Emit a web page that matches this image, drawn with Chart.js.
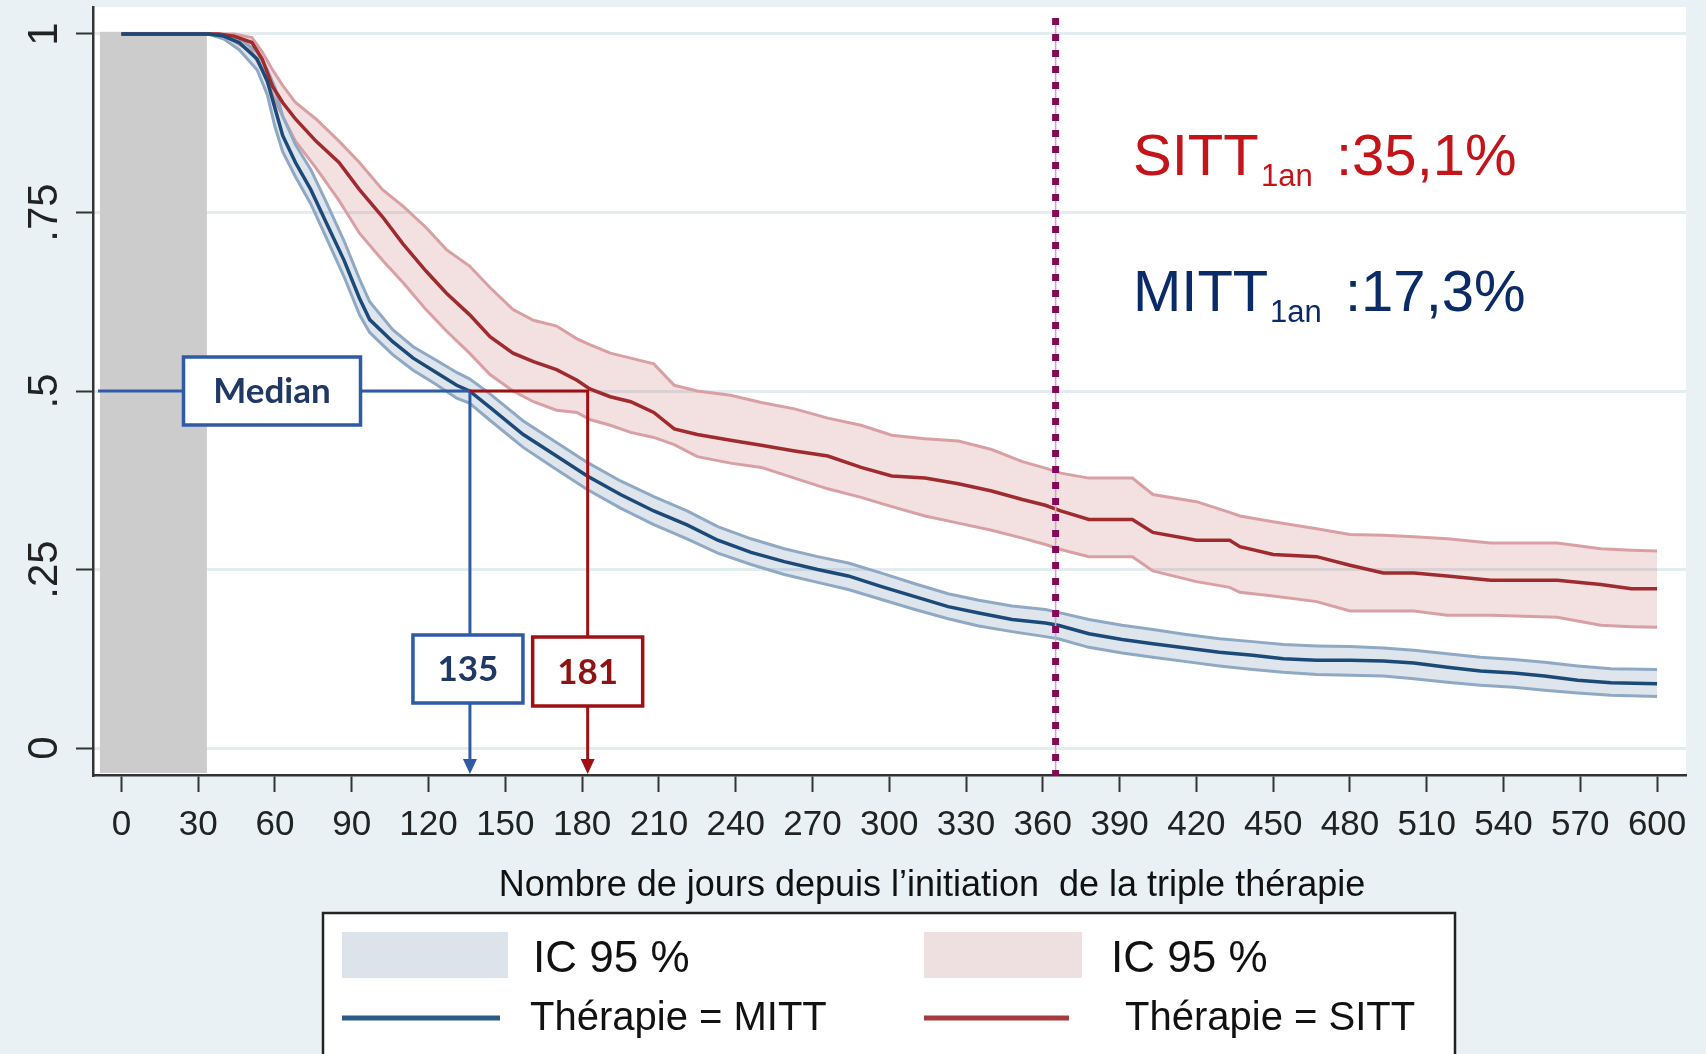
<!DOCTYPE html>
<html>
<head>
<meta charset="utf-8">
<script src="https://cdn.jsdelivr.net/npm/chart.js@4.4.1/dist/chart.umd.min.js"></script>
<style>
  html, body { margin: 0; padding: 0; background: #e9f1f4; }
  #wrap { width: 1706px; height: 1054px; }
</style>
</head>
<body>
<div id="wrap"><canvas id="kmChart" width="1706" height="1054"></canvas></div>
<script>
// Kaplan-Meier MITT (bleu)
const mittDays = [0, 34, 40, 46, 53, 57, 60, 63, 68, 74, 80, 87, 93, 97, 106, 114, 123, 131, 136, 144, 157, 170, 182, 195, 208, 221, 233, 246, 259, 272, 284, 297, 310, 323, 335, 348, 361, 366, 378, 391, 403, 416, 429, 442, 454, 467, 480, 493, 505, 518, 531, 544, 556, 569, 582, 600];
const mittSurv = [1, 1, 0.997, 0.988, 0.965, 0.934, 0.896, 0.858, 0.82, 0.782, 0.736, 0.683, 0.63, 0.60, 0.569, 0.546, 0.526, 0.508, 0.50, 0.477, 0.439, 0.409, 0.381, 0.355, 0.332, 0.3125, 0.291, 0.274, 0.261, 0.25, 0.241, 0.226, 0.212, 0.198, 0.189, 0.18, 0.175, 0.172, 0.16, 0.152, 0.146, 0.14, 0.134, 0.13, 0.125, 0.123, 0.123, 0.122, 0.119, 0.113, 0.108, 0.105, 0.101, 0.095, 0.0915, 0.09];
const mittLow = [1, 1, 0.993, 0.978, 0.95, 0.915, 0.87, 0.835, 0.80, 0.762, 0.715, 0.66, 0.607, 0.582, 0.551, 0.529, 0.509, 0.49, 0.483, 0.459, 0.421, 0.39, 0.362, 0.336, 0.313, 0.293, 0.273, 0.257, 0.243, 0.232, 0.222, 0.208, 0.194, 0.181, 0.171, 0.163, 0.156, 0.153, 0.141, 0.133, 0.127, 0.121, 0.115, 0.11, 0.106, 0.103, 0.102, 0.101, 0.097, 0.092, 0.088, 0.085, 0.081, 0.077, 0.074, 0.072];
const mittHigh = [1, 1, 0.999, 0.994, 0.975, 0.95, 0.925, 0.885, 0.845, 0.81, 0.765, 0.71, 0.657, 0.625, 0.586, 0.562, 0.543, 0.526, 0.517, 0.496, 0.458, 0.428, 0.40, 0.374, 0.352, 0.332, 0.31, 0.293, 0.279, 0.268, 0.259, 0.245, 0.23, 0.216, 0.207, 0.199, 0.194, 0.19, 0.18, 0.172, 0.166, 0.159, 0.153, 0.149, 0.145, 0.143, 0.142, 0.14, 0.137, 0.132, 0.127, 0.124, 0.12, 0.115, 0.111, 0.11];

// Kaplan-Meier SITT (rouge)
const sittDays = [0, 38, 44, 51, 55, 59, 63, 68, 76, 85, 93, 102, 110, 119, 127, 136, 144, 153, 161, 170, 178, 183, 191, 199, 208, 216, 225, 238, 250, 263, 276, 289, 301, 314, 327, 340, 352, 361, 367, 378, 395, 403, 420, 433, 437, 450, 467, 480, 493, 505, 518, 535, 561, 578, 590, 600];
const sittSurv = [1, 1, 0.997, 0.988, 0.965, 0.927, 0.904, 0.881, 0.85, 0.82, 0.782, 0.744, 0.706, 0.668, 0.637, 0.607, 0.576, 0.553, 0.541, 0.53, 0.515, 0.503, 0.492, 0.485, 0.47, 0.447, 0.439, 0.431, 0.424, 0.416, 0.409, 0.393, 0.381, 0.378, 0.37, 0.36, 0.348, 0.34, 0.332, 0.32, 0.32, 0.302, 0.291, 0.291, 0.282, 0.271, 0.268, 0.256, 0.245, 0.245, 0.241, 0.235, 0.235, 0.229, 0.223, 0.223];
const sittLow = [1, 1, 0.99, 0.975, 0.95, 0.915, 0.885, 0.85, 0.8125, 0.767, 0.721, 0.683, 0.652, 0.614, 0.584, 0.553, 0.523, 0.5, 0.485, 0.473, 0.47, 0.46, 0.452, 0.442, 0.435, 0.425, 0.408, 0.399, 0.393, 0.378, 0.363, 0.351, 0.338, 0.325, 0.315, 0.305, 0.294, 0.285, 0.278, 0.268, 0.268, 0.248, 0.233, 0.225, 0.218, 0.213, 0.205, 0.192, 0.192, 0.192, 0.186, 0.186, 0.183, 0.172, 0.17, 0.169];
const sittHigh = [1, 1, 1, 0.995, 0.975, 0.95, 0.928, 0.904, 0.881, 0.85, 0.82, 0.782, 0.759, 0.729, 0.698, 0.675, 0.645, 0.614, 0.599, 0.591, 0.573, 0.565, 0.553, 0.546, 0.538, 0.508, 0.5, 0.494, 0.484, 0.475, 0.462, 0.452, 0.438, 0.433, 0.43, 0.418, 0.401, 0.392, 0.385, 0.378, 0.378, 0.355, 0.345, 0.33, 0.325, 0.317, 0.307, 0.299, 0.298, 0.296, 0.293, 0.287, 0.287, 0.279, 0.277, 0.276];

const xTickValues = [0, 30, 60, 90, 120, 150, 180, 210, 240, 270, 300, 330, 360, 390, 420, 450, 480, 510, 540, 570, 600];
const yTickValues = [0, 0.25, 0.5, 0.75, 1];
const greyWindow = [-8.4, 33.4];
const medianMITT = 135;
const medianSITT = 181;
const oneYear = 365;
const sitt1an = '35,1%';
const mitt1an = '17,3%';
const axisTitle = 'Nombre de jours depuis l’initiation  de la triple thérapie';
const legendLabels = ['IC 95 %', 'IC 95 %', 'Thérapie = MITT', 'Thérapie = SITT'];

const BLUE = '#1c4a78', RED = '#9f2b2e';
const ANN_BLUE = '#2e5aa6', ANN_RED = '#a00f12';
const FONT = "'Liberation Sans', Arial, sans-serif";

function pts(days, vals) {
    return days.map((d, i) => ({ x: d, y: vals[i] }));
}

function yLabel(v) {
    if (v === 0 || v === 1) return String(v);
    return String(v).replace(/^0/, '');
}

function labelBox(ctx, cx, top, w, h, stroke, text, color) {
    ctx.fillStyle = '#fff';
    ctx.fillRect(cx - w / 2, top, w, h);
    ctx.strokeStyle = stroke;
    ctx.lineWidth = 3.5;
    ctx.strokeRect(cx - w / 2, top, w, h);
    ctx.fillStyle = color;
    ctx.font = "bold 35px Lato, 'Open Sans', sans-serif";
    ctx.textAlign = 'center';
    ctx.textBaseline = 'middle';
    ctx.fillText(text, cx, top + h / 2 + 1);
}

function arrowDown(ctx, x, y0, y1, color) {
    ctx.strokeStyle = color;
    ctx.lineWidth = 3;
    ctx.beginPath();
    ctx.moveTo(x, y0);
    ctx.lineTo(x, y1 - 12);
    ctx.stroke();
    ctx.fillStyle = color;
    ctx.beginPath();
    ctx.moveTo(x - 7, y1 - 15);
    ctx.lineTo(x + 7, y1 - 15);
    ctx.lineTo(x, y1);
    ctx.closePath();
    ctx.fill();
}

const backgroundPlugin = {
    id: 'background',
    beforeDraw(chart) {
        const { ctx, chartArea: a } = chart;
        ctx.save();
        ctx.fillStyle = '#e9f1f4';
        ctx.fillRect(0, 0, chart.width, chart.height);
        ctx.fillStyle = '#ffffff';
        ctx.fillRect(a.left, a.top, a.right - a.left, a.bottom - a.top);
        ctx.restore();
    },
    beforeDatasetsDraw(chart) {
        const { ctx, chartArea: a, scales: { x, y } } = chart;
        const x0 = x.getPixelForValue(greyWindow[0]);
        const x1 = x.getPixelForValue(greyWindow[1]);
        const top = y.getPixelForValue(1.003);
        ctx.save();
        ctx.fillStyle = '#cccccc';
        ctx.fillRect(x0, top, x1 - x0, a.bottom - 2 - top);
        ctx.restore();
    }
};

const notesPlugin = {
    id: 'notes',
    afterDatasetsDraw(chart) {
        const { ctx, chartArea: a, scales: { x, y } } = chart;
        ctx.save();

        // ligne pointillée à 1 an
        const xy = x.getPixelForValue(oneYear);
        ctx.strokeStyle = '#b5b5b5';
        ctx.lineWidth = 1.5;
        ctx.beginPath();
        ctx.moveTo(xy, 18);
        ctx.lineTo(xy, a.bottom);
        ctx.stroke();
        ctx.strokeStyle = '#86085a';
        ctx.lineWidth = 7;
        ctx.setLineDash([7, 9]);
        ctx.beginPath();
        ctx.moveTo(xy, 18);
        ctx.lineTo(xy, a.bottom);
        ctx.stroke();
        ctx.setLineDash([]);

        // médianes (trait tracé ~3 px à droite de la valeur, comme l'original)
        const y05 = y.getPixelForValue(0.5);
        const xm = x.getPixelForValue(medianMITT) + 3;
        const xs = x.getPixelForValue(medianSITT) + 3;
        ctx.lineWidth = 3;
        ctx.strokeStyle = ANN_BLUE;
        ctx.beginPath();
        ctx.moveTo(a.left + 5, y05);
        ctx.lineTo(xm, y05);
        ctx.lineTo(xm, 636);
        ctx.stroke();
        ctx.strokeStyle = ANN_RED;
        ctx.beginPath();
        ctx.moveTo(xm, y05);
        ctx.lineTo(xs, y05);
        ctx.lineTo(xs, 638);
        ctx.stroke();

        arrowDown(ctx, xm, 703, a.bottom - 1, ANN_BLUE);
        arrowDown(ctx, xs, 706, a.bottom - 1, ANN_RED);

        labelBox(ctx, 272, y05 - 34, 177, 68, ANN_BLUE, 'Median', '#1f3864');
        labelBox(ctx, xm - 2, 635, 110, 68, ANN_BLUE, String(medianMITT), '#1f3864');
        labelBox(ctx, xs, 637, 110, 69, ANN_RED, String(medianSITT), '#8e1414');

        // survie à 1 an
        const notes = [
            { name: 'SITT', value: sitt1an, color: '#c3141a', base: 175, sub: 1261, colon: 1336 },
            { name: 'MITT', value: mitt1an, color: '#0b2a68', base: 311, sub: 1270, colon: 1345 }
        ];
        ctx.textAlign = 'left';
        ctx.textBaseline = 'alphabetic';
        notes.forEach(n => {
            ctx.fillStyle = n.color;
            ctx.font = '58px ' + FONT;
            ctx.fillText(n.name, 1133, n.base);
            ctx.fillText(':' + n.value, n.colon, n.base);
            ctx.font = '31px ' + FONT;
            ctx.fillText('1an', n.sub, n.base + 11);
        });
        ctx.restore();
    },
    afterDraw(chart) {
        const { ctx, scales: { y } } = chart;
        ctx.save();

        // étiquettes de l'axe Y, tournées
        ctx.fillStyle = '#222';
        ctx.font = '42px ' + FONT;
        ctx.textAlign = 'center';
        ctx.textBaseline = 'alphabetic';
        y.ticks.forEach(t => {
            const py = y.getPixelForValue(t.value);
            ctx.save();
            ctx.translate(57, py);
            ctx.rotate(-Math.PI / 2);
            ctx.fillText(yLabel(t.value), 0, 0);
            ctx.restore();
        });

        // titre de l'axe X
        ctx.fillStyle = '#111';
        ctx.font = '36px ' + FONT;
        ctx.textBaseline = 'middle';
        ctx.fillText(axisTitle, 932, 886);

        // légende
        ctx.textBaseline = 'alphabetic';
        ctx.fillStyle = '#ffffff';
        ctx.fillRect(323, 913, 1132, 160);
        ctx.strokeStyle = '#222';
        ctx.lineWidth = 2.5;
        ctx.strokeRect(323, 913, 1132, 160);

        ctx.fillStyle = '#dde3eb';
        ctx.fillRect(342, 932, 166, 46);
        ctx.fillStyle = '#eedfe1';
        ctx.fillRect(924, 932, 158, 46);

        ctx.lineWidth = 5;
        ctx.strokeStyle = '#2c5a89';
        ctx.beginPath();
        ctx.moveTo(342, 1018);
        ctx.lineTo(500, 1018);
        ctx.stroke();
        ctx.strokeStyle = '#a53b3f';
        ctx.beginPath();
        ctx.moveTo(924, 1018);
        ctx.lineTo(1069, 1018);
        ctx.stroke();

        ctx.fillStyle = '#111';
        ctx.textAlign = 'left';
        ctx.font = '44px ' + FONT;
        ctx.fillText(legendLabels[0], 533, 972);
        ctx.fillText(legendLabels[1], 1111, 972);
        ctx.font = '40px ' + FONT;
        ctx.fillText(legendLabels[2], 530, 1030);
        ctx.fillText(legendLabels[3], 1125, 1030);
        ctx.restore();
    }
};

new Chart(document.getElementById('kmChart'), {
    type: 'line',
    data: {
        datasets: [
            { label: 'IC 95 % SITT sup', data: pts(sittDays, sittHigh), borderColor: '#d9a0a4', borderWidth: 3, backgroundColor: 'rgba(180,60,70,0.16)', fill: '+1', order: 6 },
            { label: 'IC 95 % SITT inf', data: pts(sittDays, sittLow), borderColor: '#d9a0a4', borderWidth: 3, fill: false, order: 5 },
            { label: 'IC 95 % MITT sup', data: pts(mittDays, mittHigh), borderColor: '#8fa9c4', borderWidth: 3, backgroundColor: 'rgba(60,100,150,0.17)', fill: '+1', order: 4 },
            { label: 'IC 95 % MITT inf', data: pts(mittDays, mittLow), borderColor: '#8fa9c4', borderWidth: 3, fill: false, order: 3 },
            { label: 'Thérapie = SITT', data: pts(sittDays, sittSurv), borderColor: RED, borderWidth: 3.5, fill: false, order: 2 },
            { label: 'Thérapie = MITT', data: pts(mittDays, mittSurv), borderColor: BLUE, borderWidth: 3.5, fill: false, order: 1 }
        ]
    },
    options: {
        responsive: false,
        animation: false,
        elements: { point: { radius: 0 }, line: { tension: 0 } },
        layout: { padding: { top: 7, right: 20, left: 0, bottom: 0 } },
        plugins: { legend: { display: false }, tooltip: { enabled: false } },
        scales: {
            x: {
                type: 'linear',
                min: -11.1,
                max: 611.3,
                afterBuildTicks: s => { s.ticks = xTickValues.map(v => ({ value: v })); },
                afterFit: s => { s.height = 279; },
                grid: { drawOnChartArea: false, tickLength: 17, tickColor: '#333', tickWidth: 2 },
                border: { color: '#333', width: 2.5 },
                ticks: { font: { family: FONT, size: 35 }, color: '#222', padding: 12, maxRotation: 0, autoSkip: false },
                title: { display: false }
            },
            y: {
                min: -0.0378,
                max: 1.0378,
                afterBuildTicks: s => { s.ticks = yTickValues.map(v => ({ value: v })); },
                afterFit: s => { s.width = 93; },
                grid: { color: '#e3ecef', lineWidth: 3, tickLength: 17, tickColor: '#333', tickWidth: 2 },
                border: { color: '#333', width: 2.5 },
                ticks: { display: false }
            }
        }
    },
    plugins: [backgroundPlugin, notesPlugin]
});
</script>
</body>
</html>
